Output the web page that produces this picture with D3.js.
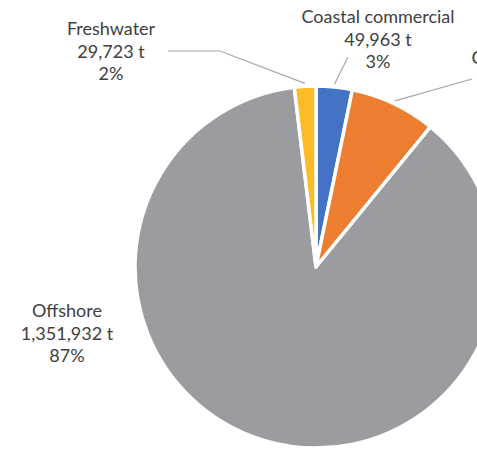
<!DOCTYPE html>
<html>
<head>
<meta charset="utf-8">
<script src="https://cdn.jsdelivr.net/npm/d3@7"></script>
<style>
  html, body { margin: 0; padding: 0; background: #ffffff; overflow: hidden; }
  svg { display: block; }
  text { font-family: Lato, "Liberation Sans", sans-serif; }
</style>
</head>
<body>
<svg id="chart" width="477" height="451"></svg>
<script>
// Fish production by sector (tonnes), clockwise from 12 o'clock
const categories = ["Coastal commercial", "Coastal subsistence", "Offshore", "Freshwater"];
const tonnes = [49963, 119000, 1351932, 29723];
const colors = ["#4472c4", "#ed7d31", "#9a9c9f", "#fbbc28"];

// Label placement (centre of the first line's baseline, and leader end points)
const labelLayout = {
  "Coastal commercial":  { x: 378, y: 23, lead: [[348, 57]] },
  "Coastal subsistence": { x: 549, y: 64, lead: [[472, 79]] },
  "Offshore":            { x: 67,  y: 317, lead: null },
  "Freshwater":          { x: 111, y: 35, lead: [[168, 51], [220, 51]] }
};

const svg = d3.select("#chart");
const cx = 316, cy = 267, radius = 181;
const lineGap = 22.5;

const total = d3.sum(tonnes);
const data = categories.map((c, i) => ({ name: c, value: tonnes[i], color: colors[i] }));

const pie = d3.pie().sort(null).value(d => d.value).startAngle(0).endAngle(2 * Math.PI);
const arc = d3.arc().innerRadius(0).outerRadius(radius);
const arcs = pie(data);

const g = svg.append("g").attr("transform", `translate(${cx},${cy})`);

g.selectAll("path.slice")
  .data(arcs)
  .join("path")
  .attr("class", "slice")
  .attr("d", arc)
  .attr("fill", d => d.data.color)
  .attr("stroke", "#ffffff")
  .attr("stroke-width", 3.5)
  .attr("stroke-linejoin", "round");

// Leader lines from each slice edge to its label
const fmt = d3.format(",");
arcs.forEach(a => {
  const lay = labelLayout[a.data.name];
  if (!lay.lead) return;
  const mid = (a.startAngle + a.endAngle) / 2;
  const r = radius + 3;
  const p0 = [cx + Math.sin(mid) * r, cy - Math.cos(mid) * r];
  const pts = [p0].concat(lay.lead.slice().reverse());
  svg.append("path")
    .attr("d", d3.line()(pts))
    .attr("fill", "none")
    .attr("stroke", "#a6a6a6")
    .attr("stroke-width", 1.2);
});

// Labels: name, tonnes, share
arcs.forEach(a => {
  const lay = labelLayout[a.data.name];
  const pct = Math.round(a.data.value / total * 100) + "%";
  const lines = [a.data.name, fmt(a.data.value) + " t", pct];
  const t = svg.append("text")
    .attr("x", lay.x)
    .attr("y", lay.y)
    .attr("text-anchor", "middle")
    .attr("fill", "#404040")
    .attr("font-size", 18);
  lines.forEach((ln, i) => {
    t.append("tspan")
      .attr("x", lay.x)
      .attr("dy", i === 0 ? 0 : lineGap)
      .text(ln);
  });
});
</script>
</body>
</html>
